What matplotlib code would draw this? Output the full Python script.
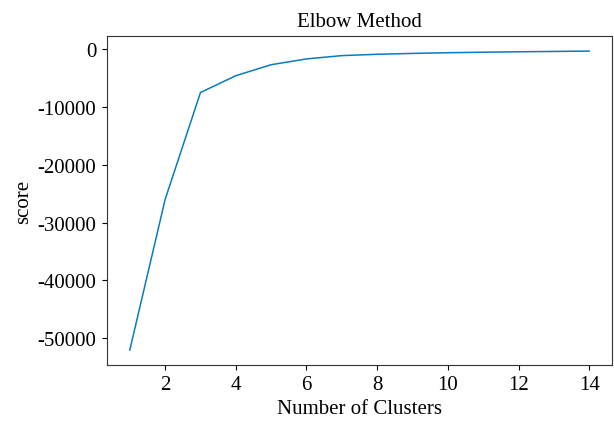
import matplotlib
matplotlib.use('Agg')
import matplotlib.pyplot as plt

# Elbow scores
clusters = list(range(1, 15))
score = [-52000, -26000, -7550, -4650, -2750, -1750, -1180, -950, -800, -680, -590, -520, -460, -400]

plt.rcParams['font.family'] = ['Liberation Serif', 'DejaVu Serif']
plt.rcParams['axes.unicode_minus'] = False
plt.rcParams['font.size'] = 15

fig, ax = plt.subplots(figsize=(6.14, 4.27), dpi=100)
ax.plot(clusters, score, color='#0a7bbd', linewidth=1.1)

ax.set_title('Elbow Method', fontsize=15, pad=7)
ax.set_xlabel('Number of Clusters', labelpad=3)
ax.set_ylabel('score', labelpad=3)
ax.set_yticks([0, -10000, -20000, -30000, -40000, -50000])
ax.tick_params(labelsize=15, pad=4)
for side in ax.spines.values():
    side.set_color('#333333')

plt.subplots_adjust(left=0.174, right=0.997, top=0.913, bottom=0.143)
plt.savefig('out.png', dpi=100)
